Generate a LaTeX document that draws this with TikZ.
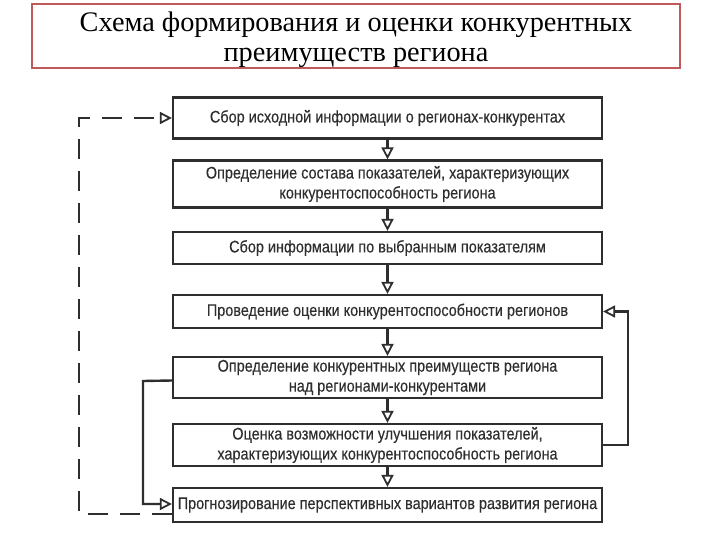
\documentclass[tikz,border=0pt]{standalone}
\usepackage{fontspec}
\setmainfont{Liberation Serif}
\newfontfamily\boxfont[FakeStretch=0.86, FakeBold=0.3]{Liberation Sans}
\usetikzlibrary{arrows.meta}
\definecolor{ink}{HTML}{2E2E2E}
\definecolor{titlered}{HTML}{BE5A5A}
\tikzset{
  stepbox/.style={draw=ink, line width=2.2pt, minimum width=429pt, align=center,
    text=ink, font=\boxfont\fontsize{16.8}{20}\selectfont, inner sep=0pt},
  titletext/.style={anchor=base, inner sep=0pt, font=\fontsize{28.3}{30}\selectfont},
  link/.style={draw=ink, line width=2.4pt, -{Triangle[open, width=12pt, length=12pt, line width=1.8pt]}},
  dashlink/.style={link, dash pattern=on 20pt off 12pt}
}
\begin{document}
\begin{tikzpicture}[x=1pt, y=-1pt]
\useasboundingbox (0,0) rectangle (720,540);
\node[draw=titlered, line width=1.8pt, minimum width=648pt, minimum height=64pt, inner sep=0pt] (title) at (356,36) {};
\node[titletext] (t1) at (356,32) {Схема формирования и оценки конкурентных};
\node[titletext] (t2) at (356,62) {преимуществ региона};
\node[stepbox, minimum height=41pt] (b1) at (387.5,118) {Сбор исходной информации о регионах-конкурентах};
\node[stepbox, minimum height=47pt] (b2) at (387.5,184) {Определение состава показателей, характеризующих\\конкурентоспособность региона};
\node[stepbox, minimum height=32pt] (b3) at (387.5,248) {Сбор информации по выбранным показателям};
\node[stepbox, minimum height=33pt] (b4) at (387.5,311.5) {Проведение оценки конкурентоспособности регионов};
\node[stepbox, minimum height=41pt] (b5) at (387.5,377.5) {Определение конкурентных преимуществ региона\\над регионами-конкурентами};
\node[stepbox, minimum height=42pt] (b6) at (387.5,445) {Оценка возможности улучшения показателей,\\характеризующих конкурентоспособность региона};
\node[stepbox, minimum height=34pt] (b7) at (387.5,505) {Прогнозирование перспективных вариантов развития региона};
\draw[link] (b1) -- (b2);
\draw[link] (b2) -- (b3);
\draw[link] (b3) -- (b4);
\draw[link] (b4) -- (b5);
\draw[link] (b5) -- (b6);
\draw[link] (b6) -- (b7);
\coordinate (lsolid) at (143,381);
\coordinate (ldash) at (79,514);
\coordinate (rsolid) at (628,445);
\draw[link] ([yshift=-3pt]b5.west) -- (lsolid) |- ([yshift=1pt]b7.west);
\draw[dashlink] ([yshift=-9pt]b7.west) -- (ldash) |- (b1.west);
\draw[link] (b6.east) -- (rsolid) |- (b4.east);
\end{tikzpicture}
\end{document}
